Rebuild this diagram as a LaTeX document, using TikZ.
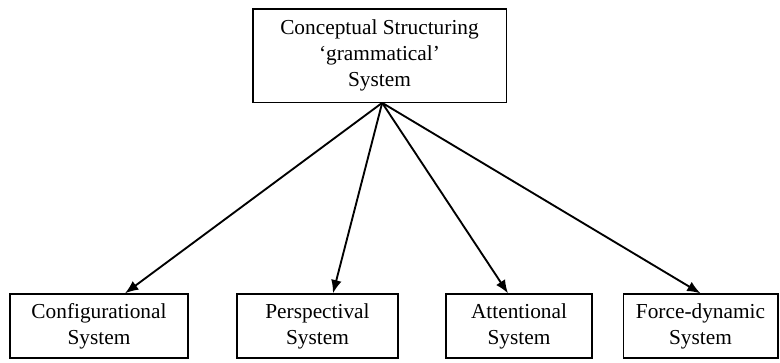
\documentclass[tikz,border=0pt]{standalone}
\usepackage{fontspec}
\setmainfont{Liberation Serif}
\usetikzlibrary{arrows.meta, positioning}

\begin{document}
\begin{tikzpicture}[x=0.75pt, y=-0.75pt,
  sysbox/.style = {draw, line width=1pt, align=center, inner sep=0pt,
    minimum height=48pt, font=\fontsize{16}{19.5}\selectfont},
  arr/.style = {line width=1.4pt, -{Latex[length=10pt, width=8pt]}}]
\useasboundingbox (0, 0) rectangle (780, 362);
\node[sysbox, minimum width=190pt, minimum height=70pt] (css) at (379.5, 55.5) {Conceptual Structuring\\`grammatical'\\System};
\node[sysbox, minimum width=133.5pt] (conf) at (99, 326) {Configurational\\System};
\node[sysbox, minimum width=120.75pt] (persp) at (317.5, 326) {Perspectival\\System};
\node[sysbox, minimum width=109.5pt] (attn) at (519, 326) {Attentional\\System};
\node[sysbox, minimum width=116pt] (force) at (700.5, 326) {Force-dynamic\\System};
\coordinate (hub) at ([xshift=2pt]css.south);
\draw[arr] (hub) -- ([xshift=19.5pt]conf.north);
\draw[arr] (hub) -- ([xshift=11.6pt]persp.north);
\draw[arr] (hub) -- ([xshift=-8.25pt]attn.north);
\draw[arr] (hub) -- (force.north);
\end{tikzpicture}
\end{document}
